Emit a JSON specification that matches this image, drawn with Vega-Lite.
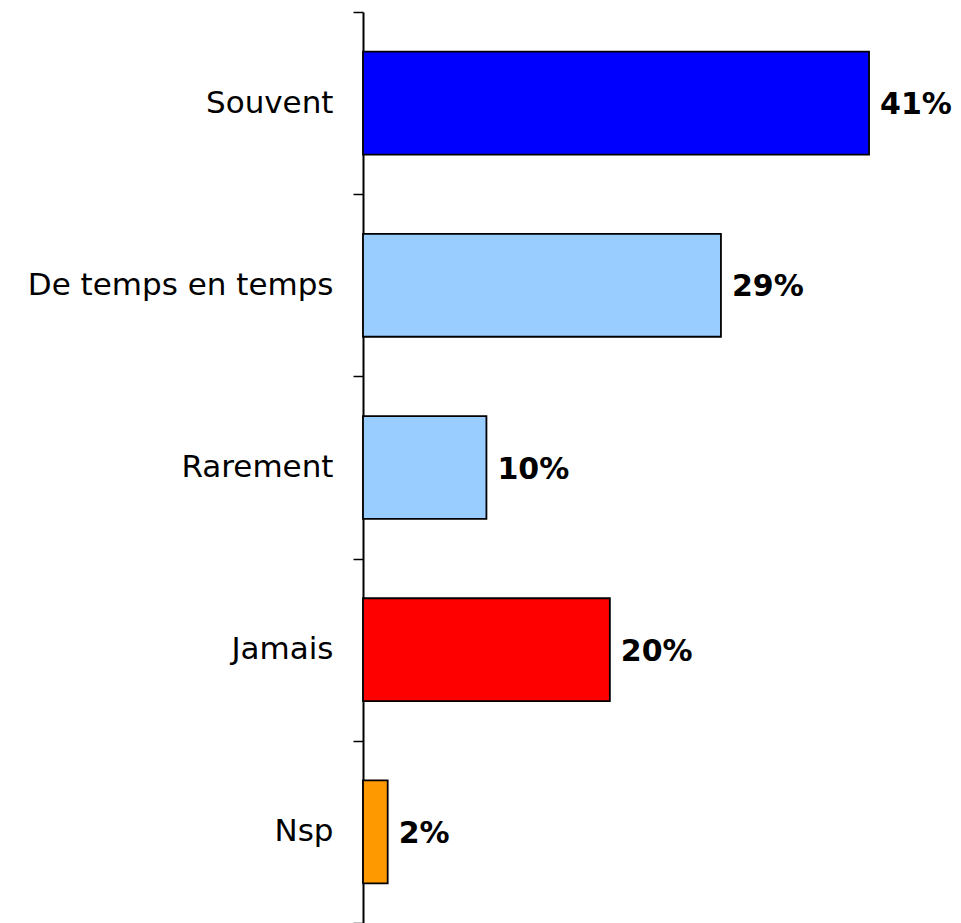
{
  "$schema": "https://vega.github.io/schema/vega-lite/v6.json",
  "autosize": {"type": "none"},
  "width": 598,
  "height": 911,
  "padding": {"left": 363, "top": 12, "right": 0, "bottom": 0},
  "background": "white",
  "config": {"view": {"stroke": null}, "font": "DejaVu Sans"},
  "data": {
    "values": [
      {"cat": "Souvent", "pct": 41, "label": "41%", "color": "#0000FF"},
      {"cat": "De temps en temps", "pct": 29, "label": "29%", "color": "#99CCFF"},
      {"cat": "Rarement", "pct": 10, "label": "10%", "color": "#99CCFF"},
      {"cat": "Jamais", "pct": 20, "label": "20%", "color": "#FF0000"},
      {"cat": "Nsp", "pct": 2, "label": "2%", "color": "#FF9900"}
    ]
  },
  "encoding": {
    "y": {
      "field": "cat",
      "type": "nominal",
      "sort": null,
      "scale": {"paddingInner": 0, "paddingOuter": 0},
      "axis": {
        "title": null,
        "tickBand": "extent",
        "tickSize": 10,
        "tickColor": "black",
        "tickWidth": 1.5,
        "domainColor": "black",
        "domainWidth": 2,
        "labelFont": "DejaVu Sans",
        "labelFontSize": 31,
        "labelColor": "black",
        "labelPadding": 20,
        "labelLimit": 400
      }
    },
    "x": {
      "field": "pct",
      "type": "quantitative",
      "scale": {"domain": [0, 48.45]},
      "axis": null
    }
  },
  "layer": [
    {
      "mark": {"type": "bar", "stroke": "black", "strokeWidth": 1.8, "height": {"band": 0.565}},
      "encoding": {
        "color": {"field": "color", "type": "nominal", "scale": null}
      }
    },
    {
      "mark": {"type": "text", "align": "left", "baseline": "middle", "dx": 11, "dy": 2, "fontSize": 30, "fontWeight": "bold", "font": "DejaVu Sans", "color": "black"},
      "encoding": {
        "text": {"field": "label"}
      }
    }
  ]
}
